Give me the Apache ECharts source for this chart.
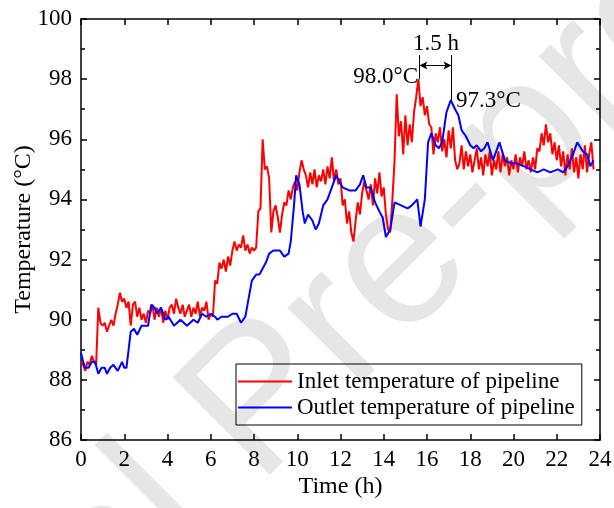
<!DOCTYPE html>
<html>
<head>
<meta charset="utf-8">
<script src="https://cdn.jsdelivr.net/npm/echarts@6/dist/echarts.min.js"></script>
<style>
  html, body { margin: 0; padding: 0; background: #fff; }
  #chart { width: 614px; height: 508px; }
</style>
</head>
<body>
<div id="chart"></div>
<script>
// inlet temperature [time (h), temperature (°C)]
const inlet = [
  [0.0, 88.6], [0.1, 88.5], [0.2, 88.3], [0.3, 88.6], [0.4, 88.5], [0.5, 88.8], [0.6, 88.6], [0.7, 88.5],
  [0.8, 90.4], [0.9, 89.9], [1.0, 89.8], [1.1, 89.9], [1.2, 89.6], [1.3, 89.8], [1.4, 90.0], [1.5, 89.8],
  [1.6, 90.2], [1.7, 90.5], [1.8, 90.9], [1.9, 90.6], [2.0, 90.7], [2.1, 90.4], [2.2, 90.6], [2.3, 89.8],
  [2.4, 90.5], [2.5, 90.6], [2.6, 90.1], [2.7, 90.4], [2.8, 90.0], [2.9, 90.2], [3.0, 89.9], [3.1, 90.3],
  [3.2, 90.2], [3.3, 90.5], [3.4, 90.0], [3.5, 90.4], [3.6, 90.1], [3.7, 90.4], [3.8, 89.9], [3.9, 90.3],
  [4.0, 90.0], [4.1, 90.4], [4.2, 90.5], [4.3, 90.2], [4.4, 90.7], [4.5, 90.4], [4.6, 90.2], [4.7, 90.5],
  [4.8, 90.1], [4.9, 90.3], [5.0, 90.5], [5.1, 90.1], [5.2, 90.4], [5.3, 90.2], [5.4, 90.6], [5.5, 90.1],
  [5.6, 90.4], [5.7, 90.3], [5.8, 90.6], [5.9, 90.0], [6.0, 90.2], [6.1, 90.1], [6.2, 91.3], [6.3, 91.2],
  [6.4, 91.9], [6.5, 91.7], [6.6, 92.0], [6.7, 91.6], [6.8, 92.1], [6.9, 91.8], [7.0, 92.3], [7.1, 92.6],
  [7.2, 92.3], [7.3, 92.5], [7.4, 92.4], [7.5, 92.8], [7.6, 92.3], [7.7, 92.5], [7.8, 92.2], [7.9, 92.4],
  [8.0, 92.3], [8.1, 92.4], [8.2, 93.6], [8.3, 93.7], [8.4, 96.0], [8.5, 95.0], [8.6, 95.1], [8.7, 94.7],
  [8.8, 92.9], [8.9, 93.6], [9.0, 93.8], [9.1, 93.4], [9.2, 92.9], [9.3, 93.5], [9.4, 93.9], [9.5, 93.8],
  [9.6, 94.3], [9.7, 94.0], [9.8, 94.4], [9.9, 94.6], [10.0, 94.3], [10.1, 94.9], [10.2, 95.3], [10.3, 95.0],
  [10.4, 94.8], [10.5, 94.4], [10.6, 94.9], [10.7, 94.5], [10.8, 95.0], [10.9, 94.4], [11.0, 94.8], [11.1, 94.6],
  [11.2, 95.0], [11.3, 94.5], [11.4, 95.1], [11.5, 94.7], [11.6, 95.4], [11.7, 94.6], [11.8, 95.0], [11.9, 94.5],
  [12.0, 94.7], [12.1, 93.8], [12.2, 94.0], [12.3, 93.2], [12.4, 93.6], [12.5, 92.9], [12.6, 92.6], [12.7, 93.3],
  [12.8, 93.9], [12.9, 93.5], [13.0, 94.2], [13.1, 94.6], [13.2, 94.3], [13.3, 94.0], [13.4, 94.5], [13.5, 93.8],
  [13.6, 94.7], [13.7, 94.2], [13.8, 94.9], [13.9, 94.1], [14.0, 94.4], [14.1, 93.5], [14.2, 93.0], [14.3, 92.9],
  [14.4, 94.0], [14.5, 95.3], [14.6, 97.5], [14.7, 96.1], [14.8, 96.6], [14.9, 95.5], [15.0, 96.8], [15.1, 95.8],
  [15.2, 96.5], [15.3, 95.9], [15.4, 96.9], [15.5, 97.4], [15.6, 98.0], [15.7, 97.1], [15.8, 97.4], [15.9, 96.8],
  [16.0, 97.1], [16.1, 96.5], [16.2, 96.4], [16.3, 95.5], [16.4, 96.2], [16.5, 95.9], [16.6, 96.4], [16.7, 95.6],
  [16.8, 96.0], [16.9, 95.4], [17.0, 96.3], [17.1, 95.7], [17.2, 96.4], [17.3, 95.3], [17.4, 95.0], [17.5, 95.2],
  [17.6, 95.8], [17.7, 95.0], [17.8, 95.6], [17.9, 95.1], [18.0, 95.5], [18.1, 94.9], [18.2, 95.3], [18.3, 95.7],
  [18.4, 95.0], [18.5, 95.4], [18.6, 94.8], [18.7, 95.5], [18.8, 95.1], [18.9, 95.6], [19.0, 94.8], [19.1, 95.3],
  [19.2, 95.0], [19.3, 95.6], [19.4, 94.9], [19.5, 95.5], [19.6, 95.1], [19.7, 95.4], [19.8, 94.8], [19.9, 95.3],
  [20.0, 95.0], [20.1, 95.5], [20.2, 94.9], [20.3, 95.4], [20.4, 95.1], [20.5, 95.6], [20.6, 95.0], [20.7, 95.3],
  [20.8, 94.9], [20.9, 95.4], [21.0, 95.0], [21.1, 95.7], [21.2, 95.6], [21.3, 96.2], [21.4, 95.8], [21.5, 96.5],
  [21.6, 95.9], [21.7, 96.2], [21.8, 95.5], [21.9, 95.9], [22.0, 95.3], [22.1, 95.8], [22.2, 95.1], [22.3, 95.6],
  [22.4, 94.8], [22.5, 95.5], [22.6, 95.0], [22.7, 95.7], [22.8, 94.9], [22.9, 95.4], [23.0, 94.7], [23.1, 95.5],
  [23.2, 95.0], [23.3, 95.8], [23.4, 94.9], [23.5, 95.5], [23.6, 95.9], [23.7, 95.0]
];

// outlet temperature [time (h), temperature (°C)]
const outlet = [
  [0.0, 88.9], [0.1, 88.6], [0.2, 88.4], [0.35, 88.4], [0.5, 88.6], [0.65, 88.6], [0.8, 88.2], [0.95, 88.4],
  [1.1, 88.4], [1.2, 88.2], [1.35, 88.4], [1.5, 88.5], [1.7, 88.3], [1.9, 88.6], [2.0, 88.4], [2.1, 88.4],
  [2.2, 89.0], [2.3, 89.6], [2.45, 89.7], [2.6, 89.5], [2.8, 89.8], [3.1, 89.8], [3.25, 90.5], [3.4, 90.4],
  [3.5, 90.2], [3.7, 90.4], [3.9, 90.0], [4.05, 90.1], [4.3, 89.8], [4.6, 90.0], [4.9, 89.8], [5.2, 90.0],
  [5.4, 89.9], [5.6, 90.2], [5.8, 90.1], [6.0, 90.2], [6.2, 90.1], [6.3, 90.0], [6.5, 90.1], [6.8, 90.1],
  [7.0, 90.2], [7.2, 90.2], [7.4, 89.9], [7.6, 90.1], [7.75, 90.7], [7.9, 91.3], [8.1, 91.5], [8.25, 91.5],
  [8.4, 91.7], [8.55, 91.9], [8.7, 92.2], [8.9, 92.3], [9.2, 92.3], [9.4, 92.1], [9.6, 92.2], [9.7, 92.6],
  [9.85, 93.8], [9.95, 94.8], [10.1, 94.5], [10.25, 93.6], [10.35, 93.2], [10.5, 93.5], [10.7, 93.3], [10.85, 93.0],
  [11.0, 93.2], [11.2, 93.8], [11.4, 94.0], [11.6, 94.4], [11.8, 94.8], [11.95, 94.6], [12.1, 94.4], [12.4, 94.3],
  [12.7, 94.3], [12.9, 94.5], [13.05, 94.8], [13.2, 94.4], [13.4, 94.4], [13.6, 93.9], [13.8, 93.6], [13.95, 93.4],
  [14.1, 92.75], [14.3, 93.0], [14.5, 93.9], [14.8, 93.8], [15.1, 93.7], [15.3, 93.8], [15.55, 94.0], [15.7, 93.1],
  [15.9, 94.0], [16.05, 95.9], [16.2, 96.2], [16.4, 95.8], [16.55, 95.7], [16.7, 95.9], [16.9, 96.9], [17.1, 97.3],
  [17.3, 97.0], [17.45, 96.8], [17.6, 96.3], [17.8, 96.1], [18.0, 95.8], [18.15, 95.7], [18.3, 95.8], [18.5, 95.6],
  [18.65, 95.7], [18.8, 95.9], [19.05, 95.3], [19.35, 95.9], [19.6, 95.3], [19.9, 95.2], [20.15, 95.2], [20.5, 95.1],
  [20.8, 95.0], [21.1, 94.9], [21.4, 95.0], [21.7, 94.9], [22.05, 95.0], [22.3, 94.9], [22.5, 95.1], [22.75, 95.5],
  [22.95, 95.9], [23.2, 95.6], [23.4, 95.5], [23.55, 95.1], [23.7, 95.3]
];

const timeTicks = [0, 2, 4, 6, 8, 10, 12, 14, 16, 18, 20, 22, 24];
const tempTicks = [86, 88, 90, 92, 94, 96, 98, 100];

// lag between the two peaks
const inletPeak = [15.65, 98.0];
const outletPeak = [17.13, 97.3];
const lagLabel = '1.5 h';

const font = 'Liberation Serif, Times New Roman, serif';
const chart = echarts.init(document.getElementById('chart'), null, { renderer: 'canvas' });

const tickStyle = { show: true, inside: true, length: 6, lineStyle: { color: '#000', width: 1.5 } };
const minorStyle = { show: true, splitNumber: 2, length: 4, lineStyle: { color: '#000', width: 1.5 } };
const lineStyle = { color: '#000', width: 1.5 };
const wmFont = '200px "Liberation Sans", Arial, sans-serif';

chart.setOption({
  animation: false,
  backgroundColor: '#fff',
  textStyle: { fontFamily: font },
  grid: { left: 81, right: 14, top: 19, bottom: 68, containLabel: false, outerBoundsMode: 'none' },
  legend: {
    orient: 'vertical',
    left: 236,
    top: 364,
    borderColor: '#000',
    borderWidth: 1,
    borderRadius: 0,
    padding: [6, 7, 6, 2],
    itemGap: 3,
    itemWidth: 54,
    itemHeight: 2,
    icon: 'rect',
    textStyle: { fontFamily: font, fontSize: 23, color: '#000' },
    data: ['Inlet temperature of pipeline', 'Outlet temperature of pipeline']
  },
  xAxis: [
    {
      type: 'value', min: timeTicks[0], max: timeTicks[timeTicks.length - 1], interval: 2,
      name: 'Time (h)', nameLocation: 'middle', nameGap: 35, nameMoveOverlap: false,
      nameTextStyle: { fontFamily: font, fontSize: 24, color: '#000' },
      axisLine: { onZero: false, lineStyle },
      axisTick: tickStyle,
      axisLabel: { fontFamily: font, fontSize: 23, color: '#000', margin: 8 },
      splitLine: { show: false }
    },
    {
      type: 'value', position: 'top', min: 0, max: 24, interval: 2,
      axisLine: { onZero: false, lineStyle },
      axisTick: tickStyle,
      axisLabel: { show: false },
      splitLine: { show: false }
    }
  ],
  yAxis: [
    {
      type: 'value', min: tempTicks[0], max: tempTicks[tempTicks.length - 1], interval: 2,
      name: 'Temperature (°C)', nameLocation: 'middle', nameGap: 45, nameMoveOverlap: false,
      nameTextStyle: { fontFamily: font, fontSize: 24, color: '#000' },
      axisLine: { onZero: false, lineStyle },
      axisTick: tickStyle,
      minorTick: minorStyle,
      axisLabel: { fontFamily: font, fontSize: 23, color: '#000', margin: 9 },
      splitLine: { show: false }
    },
    {
      type: 'value', position: 'right', min: 86, max: 100, interval: 2,
      axisLine: { onZero: false, lineStyle },
      axisTick: tickStyle,
      minorTick: minorStyle,
      axisLabel: { show: false },
      splitLine: { show: false }
    }
  ],
  series: [
    {
      name: 'Inlet temperature of pipeline',
      type: 'line',
      data: inlet,
      symbol: 'none',
      z: 3,
      lineStyle: { color: '#ff0000', width: 2 },
      itemStyle: { color: '#ff0000' }
    },
    {
      name: 'Outlet temperature of pipeline',
      type: 'line',
      data: outlet,
      symbol: 'none',
      z: 4,
      lineStyle: { color: '#0000ff', width: 2 },
      itemStyle: { color: '#0000ff' },
      markLine: {
        silent: true,
        symbol: 'none',
        label: { show: false },
        lineStyle: { color: '#000', width: 1, type: 'solid' },
        data: [
          [{ coord: [inletPeak[0], 98.8] }, { coord: inletPeak }],
          [{ coord: [outletPeak[0], 98.8] }, { coord: outletPeak }],
          [
            { coord: [inletPeak[0], 98.45], symbol: 'arrow', symbolSize: [6, 8] },
            { coord: [outletPeak[0], 98.45], symbol: 'arrow', symbolSize: [6, 8] }
          ]
        ]
      }
    }
  ],
  graphic: [
    {
      type: 'group', x: 290, y: 518, rotation: Math.PI / 4, z: -10, silent: true,
      children: [
        { type: 'text', x: 0, y: 0, style: { text: 'Journal ', fill: '#e6e6e6', font: wmFont, textAlign: 'right', textVerticalAlign: 'bottom' } },
        { type: 'text', x: 0, y: 0, style: { text: 'Pre-proof', fill: '#e6e6e6', font: wmFont, textAlign: 'left', textVerticalAlign: 'bottom' } }
      ]
    },
    { type: 'text', x: 436, y: 44, z: 10, style: { text: lagLabel, font: '23px "Liberation Serif"', fill: '#000', textAlign: 'center', textVerticalAlign: 'middle' } },
    { type: 'text', x: 418, y: 77, z: 10, style: { text: inletPeak[1].toFixed(1) + '°C', font: '23px "Liberation Serif"', fill: '#000', textAlign: 'right', textVerticalAlign: 'middle' } },
    { type: 'text', x: 456, y: 101, z: 10, style: { text: outletPeak[1].toFixed(1) + '°C', font: '23px "Liberation Serif"', fill: '#000', textAlign: 'left', textVerticalAlign: 'middle' } }
  ]
});
</script>
</body>
</html>
